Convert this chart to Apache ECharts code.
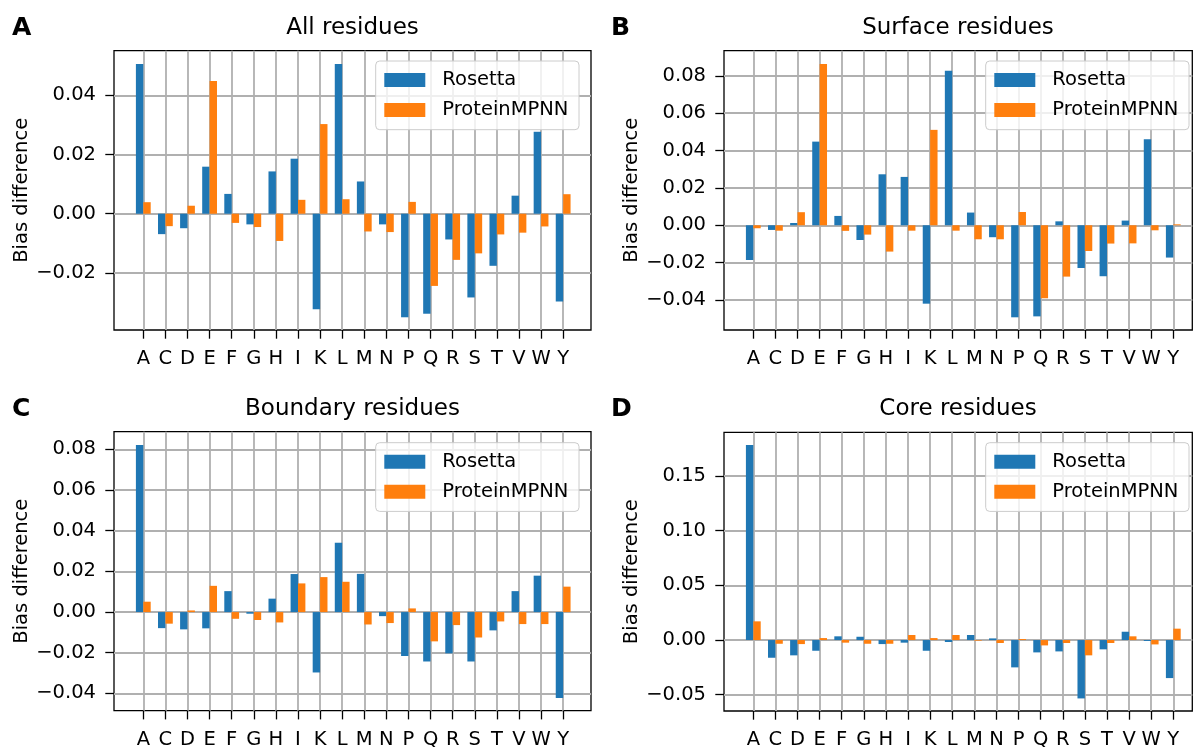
<!DOCTYPE html>
<html>
<head>
<meta charset="utf-8">
<script src="https://cdn.jsdelivr.net/npm/echarts@6/dist/echarts.min.js"></script>
<style>
html,body{margin:0;padding:0;background:#fff;}
#chart{width:1195px;height:747px;}
</style>
</head>
<body>
<div id="chart"></div>
<script>
// ---- data ----
const residues = ['A','C','D','E','F','G','H','I','K','L','M','N','P','Q','R','S','T','V','W','Y'];
const seriesNames = ['Rosetta', 'ProteinMPNN'];
const panelTitles = ['All residues', 'Surface residues', 'Boundary residues', 'Core residues'];
const panelLetters = ['A', 'B', 'C', 'D'];

const allRosetta = [0.0506,-0.0069,-0.0049,0.0159,0.0067,-0.0036,0.0143,0.0186,-0.0323,0.0506,0.0109,-0.0036,-0.0350,-0.0338,-0.0087,-0.0283,-0.0176,0.0061,0.0277,-0.0297];
const allMPNN    = [0.0039,-0.0042,0.0027,0.0449,-0.0031,-0.0045,-0.0092,0.0047,0.0303,0.0049,-0.0060,-0.0062,0.0040,-0.0244,-0.0156,-0.0134,-0.0070,-0.0064,-0.0043,0.0066];

const surfaceRosetta = [-0.0186,-0.0025,0.0012,0.0448,0.0050,-0.0079,0.0273,0.0259,-0.0420,0.0827,0.0068,-0.0064,-0.0493,-0.0488,0.0021,-0.0229,-0.0273,0.0025,0.0461,-0.0173];
const surfaceMPNN    = [-0.0016,-0.0029,0.0070,0.0864,-0.0030,-0.0050,-0.0141,-0.0029,0.0511,-0.0029,-0.0075,-0.0075,0.0071,-0.0391,-0.0275,-0.0138,-0.0098,-0.0097,-0.0027,0.0005];

const boundaryRosetta = [0.0821,-0.0079,-0.0085,-0.0080,0.0103,-0.0008,0.0066,0.0187,-0.0297,0.0341,0.0188,-0.0020,-0.0216,-0.0243,-0.0203,-0.0243,-0.0090,0.0103,0.0179,-0.0423];
const boundaryMPNN    = [0.0051,-0.0057,0.0008,0.0129,-0.0033,-0.0039,-0.0051,0.0141,0.0172,0.0149,-0.0061,-0.0054,0.0018,-0.0144,-0.0064,-0.0125,-0.0046,-0.0059,-0.0059,0.0125];

const coreRosetta = [0.1784,-0.0162,-0.0140,-0.0098,0.0034,0.0030,-0.0037,-0.0024,-0.0098,-0.0018,0.0046,0.0015,-0.0250,-0.0113,-0.0104,-0.0534,-0.0085,0.0076,-0.0009,-0.0348];
const coreMPNN    = [0.0171,-0.0034,-0.0037,0.0018,-0.0024,-0.0034,-0.0034,0.0046,0.0018,0.0046,-0.0006,-0.0027,0.0009,-0.0049,-0.0027,-0.0140,-0.0027,0.0034,-0.0040,0.0104];

const yTicksAll      = [-0.02, 0.00, 0.02, 0.04];
const yTicksSurface  = [-0.04, -0.02, 0.00, 0.02, 0.04, 0.06, 0.08];
const yTicksBoundary = [-0.04, -0.02, 0.00, 0.02, 0.04, 0.06, 0.08];
const yTicksCore     = [-0.05, 0.00, 0.05, 0.10, 0.15];

const yRanges = [[-0.0393, 0.0551], [-0.0561, 0.0935], [-0.0485, 0.0887], [-0.0649, 0.190]];
const xRanges = [[-1.326, 20.26], [-1.326, 19.86], [-1.326, 20.26], [-1.326, 19.86]];

// ---- layout ----
const FONT = 'DejaVu Sans';
const TICK_FS = 19.5;
const layout = [
  {left:114, top:50.7, width:477,   height:279.3, legend:[375.7, 61],    title:[352.5, 28],  letter:[12, 28]},
  {left:724, top:50.7, width:468.3, height:279.3, legend:[985.7, 61],    title:[958, 28],    letter:[611, 28]},
  {left:114, top:431.7,width:477,   height:279,   legend:[375.7, 442.7], title:[352.5, 409], letter:[12, 409]},
  {left:724, top:432.3,width:468.3, height:278.7, legend:[985.7, 442.7], title:[958, 409],   letter:[611, 409]}
];
const dataSets = [
  [allRosetta, allMPNN],
  [surfaceRosetta, surfaceMPNN],
  [boundaryRosetta, boundaryMPNN],
  [coreRosetta, coreMPNN]
];
const yTicks = [yTicksAll, yTicksSurface, yTicksBoundary, yTicksCore];
const colors = ['#1f77b4', '#ff7f0e'];

function fmtY(v) {
  const s = Math.abs(v).toFixed(2);
  return (v < -1e-9 ? '\u2212' : '') + s;
}

const grids = [], xAxes = [], yAxes = [], series = [], legends = [], titles = [];
const xIdx = residues.map((r, i) => i);

layout.forEach((L, p) => {
  grids.push({
    left: L.left, top: L.top, width: L.width, height: L.height,
    show: true, borderColor: '#000', borderWidth: 1.3, backgroundColor: 'transparent',
    containLabel: false, outerBoundsMode: 'none'
  });
  xAxes.push({
    type: 'value', gridIndex: p, min: xRanges[p][0], max: xRanges[p][1],
    axisLine: {show: false, onZero: false},
    axisTick: {show: true, customValues: xIdx, length: 8.7, lineStyle: {color: '#000', width: 1.3}},
    axisLabel: {show: true, customValues: xIdx, margin: 19, fontFamily: FONT, fontSize: TICK_FS, color: '#000',
                formatter: v => residues[Math.round(v)] || ''},
    splitLine: {show: true, lineStyle: {color: '#b0b0b0', width: 1.8}}
  });
  yAxes.push({
    type: 'value', gridIndex: p, min: yRanges[p][0], max: yRanges[p][1],
    name: 'Bias difference', nameLocation: 'middle', nameGap: 71,
    nameTextStyle: {fontFamily: FONT, fontSize: TICK_FS, color: '#000'},
    axisLine: {show: false, onZero: false},
    axisTick: {show: true, customValues: yTicks[p], length: 8.7, lineStyle: {color: '#000', width: 1.3}},
    axisLabel: {show: true, customValues: yTicks[p], margin: 18, fontFamily: FONT, fontSize: TICK_FS, color: '#000',
                formatter: fmtY},
    splitLine: {show: true, lineStyle: {color: '#b0b0b0', width: 1.8}}
  });
  dataSets[p].forEach((vals, s) => {
    series.push({
      type: 'bar', name: seriesNames[s], xAxisIndex: p, yAxisIndex: p,
      barWidth: 7.4, barGap: '0%',
      itemStyle: {color: colors[s]},
      data: vals.map((v, i) => [i, v]),
      animation: false
    });
  });
  legends.push({
    data: seriesNames, orient: 'vertical', left: L.legend[0], top: L.legend[1],
    icon: 'rect', itemWidth: 41, itemHeight: 14, itemGap: 10,
    padding: [9, 10.6, 9.7, 8.6],
    backgroundColor: 'rgba(255,255,255,0.8)', borderColor: '#cccccc', borderWidth: 1, borderRadius: 4,
    textStyle: {fontFamily: FONT, fontSize: TICK_FS, color: '#000', lineHeight: 20, padding: [0, 0, 0, 12]},
    selectedMode: false
  });
  titles.push({
    text: panelTitles[p], left: L.title[0], top: L.title[1] - 13, textAlign: 'center', padding: 0,
    textStyle: {fontFamily: FONT, fontSize: 23, fontWeight: 'normal', color: '#000', lineHeight: 26}
  });
  titles.push({
    text: panelLetters[p], left: L.letter[0], top: L.letter[1] - 14, padding: 0,
    textStyle: {fontFamily: FONT, fontSize: 25, fontWeight: 'bold', color: '#000', lineHeight: 28}
  });
});

const chart = echarts.init(document.getElementById('chart'), null, {renderer: 'canvas'});
chart.setOption({
  animation: false,
  backgroundColor: '#fff',
  title: titles,
  grid: grids,
  xAxis: xAxes,
  yAxis: yAxes,
  legend: legends,
  series: series
});
</script>
</body>
</html>
